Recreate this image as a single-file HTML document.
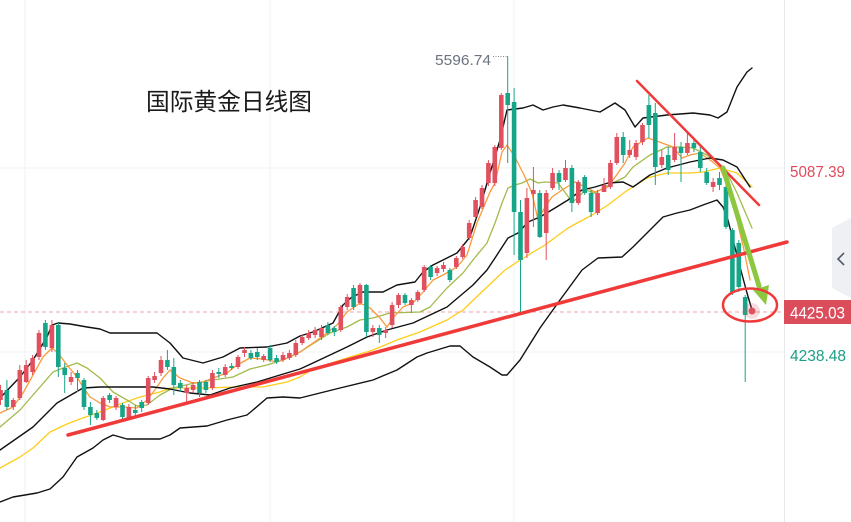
<!DOCTYPE html>
<html><head><meta charset="utf-8"><style>
html,body{margin:0;padding:0;background:#fff;}
svg{display:block;}
</style></head><body>
<svg width="851" height="522" viewBox="0 0 851 522" xmlns="http://www.w3.org/2000/svg">
<rect width="851" height="522" fill="#fff"/>
<!-- grid -->
<g stroke="#eef0f3" stroke-width="1">
<line x1="25" y1="0" x2="25" y2="522"/>
<line x1="270" y1="0" x2="270" y2="522"/>
<line x1="514" y1="0" x2="514" y2="522"/>
<line x1="0" y1="168" x2="784" y2="168"/>
<line x1="0" y1="352" x2="784" y2="352"/>
</g>
<line x1="784.5" y1="0" x2="784.5" y2="522" stroke="#e6e8eb" stroke-width="1"/>
<!-- dashed price line -->
<line x1="0" y1="312" x2="784" y2="312" stroke="#eda3ab" stroke-width="1" stroke-dasharray="4,3"/>

<!-- MA lines -->
<g fill="none" stroke-linejoin="round" stroke-linecap="round">
<polyline stroke="#ffcc1a" stroke-width="1.3" points="0,468 20,457 33,448 50,432 67,424 80,419 100,412 123,403 140,397 160,392 170,388 203,388 237,387 263,387 287,382 300,377 313,369 347,358 373,350 397,340 420,332 447,320 463,310 487,287 505,270 525,257 545,245 568,228 592,215 608,205 625,192 633,187 647,178 667,173 690,173 703,172 720,168 737,173 752,187"/>
<polyline stroke="#a2bb4c" stroke-width="1.3" points="0,427 20,410 33,395 53,372 63,368 77,363 87,368 100,378 113,392 127,400 137,406 147,405 160,395 173,388 190,384 213,380 233,377 250,369 267,365 283,360 300,352 330,333 347,327 360,320 373,318 390,313 420,312 430,307 447,288 463,273 473,260 487,243 495,223 502,203 508,188 515,185 522,183 530,179 538,183 545,182 558,183 567,195 572,202 578,198 585,190 595,193 605,187 615,182 625,177 633,167 650,155 667,147 680,147 693,148 707,155 717,163 727,173 737,193 752,228"/>
<polyline stroke="#fb9a3c" stroke-width="1.3" points="0,413 13,407 23,393 33,375 43,357 52,348 58,353 67,365 77,377 83,387 90,397 100,403 110,407 123,407 137,408 147,400 157,387 163,378 170,370 180,378 193,383 203,382 213,378 227,373 237,365 250,358 263,359 277,362 290,357 300,352 323,336 337,325 347,312 360,303 370,308 380,318 387,327 393,318 403,307 413,303 423,292 433,280 443,275 457,267 467,255 477,223 490,192 495,183 502,152 507,145 515,157 525,177 532,193 538,220 545,207 552,197 562,190 575,182 585,187 595,192 608,187 618,173 625,163 633,147 648,138 662,143 673,147 682,158 690,155 700,153 710,160 720,168 727,185 737,220 744,250 750,280"/>
<!-- Bollinger -->
<polyline stroke="#111" stroke-width="1.4" points="0,398 20,377 33,360 47,337 52,325 58,323 70,324 87,327 100,329 110,333 130,333 157,333 170,343 183,358 203,363 223,357 240,348 267,347 287,343 300,336 313,332 333,323 343,305 352,297 363,292 383,292 397,285 415,282 423,272 433,265 443,260 457,253 470,237 480,207 490,173 500,140 507,110 523,108 533,105 543,110 553,107 563,105 580,108 600,112 615,103 625,110 635,127 643,118 667,115 693,113 710,115 718,118 727,112 737,87 747,72 752,68"/>
<polyline stroke="#111" stroke-width="1.4" points="0,450 33,427 57,403 83,388 100,387 153,387 170,389 190,393 210,395 230,388 257,382 280,375 300,369 313,363 347,347 367,337 387,330 413,323 447,307 473,285 487,270 495,258 508,238 518,233 528,222 540,217 555,208 568,200 582,190 595,187 608,183 623,182 633,187 650,175 667,168 690,162 710,158 723,160 737,167 750,187"/>
<polyline stroke="#111" stroke-width="1.4" points="0,502 13,497 37,493 50,489 63,477 77,457 93,448 103,440 113,435 127,439 160,439 170,435 180,428 207,426 227,420 247,415 253,410 267,398 283,397 300,398 340,388 373,380 397,370 417,357 427,353 450,346 460,346 473,357 490,367 502,375 507,375 520,360 540,328 560,300 582,270 598,258 622,257 633,247 647,233 663,217 677,213 690,210 703,205 717,200 723,207 728,220 733,240 740,267 747,293 752,310"/>
</g>

<!-- red candles -->
<path fill="none" stroke="#e0505e" stroke-width="1" d="M0.5 385V405M13.3 398V410M19.8 365V400M26.2 360V383M32.6 355V375M39 330V360M51.9 320V352M71.1 372V385M103.2 396V421M116.1 396V410M128.9 404V420M148.2 376V405M154.6 372V383M161 356V376M186.7 385V402M193.1 382V393M212.4 370V390M225.2 364V377M238 355V369M244.5 347V357M263.7 354V362M283 352V362M289.4 350V360M295.8 340V357M302.2 335V345M308.7 330V340M315.1 327V338M321.5 325V340M340.8 305V332M347.2 294V310M360 283V305M372.9 325V337M385.7 327V338M392.1 302V328M398.5 293V308M411.4 298V313M417.8 290V302M424.2 265V292M437.1 266V276M443.5 262V272M456.3 256V269M462.7 244V259M469.2 220V240M475.6 197V219M482 185V209M488.4 160V186M494.8 145V186M501.3 93V150M526.9 188V258M533.4 167V227M546.2 190V260M552.6 168V190M565.5 160V182M578.3 180V205M597.6 190V215M604 178V192M610.4 160V189M616.8 133V165M629.7 140V158M636.1 140V160M642.5 123V145M661.8 150V168M674.6 133V162M687.4 133V155M713.1 178V192"/>
<path fill="#e0505e" d="M-1.8 390h4.6V400h-4.6zM11 400h4.6V407h-4.6zM17.5 370h4.6V398h-4.6zM23.9 365h4.6V382h-4.6zM30.3 358h4.6V372h-4.6zM36.7 333h4.6V357h-4.6zM49.6 325h4.6V348h-4.6zM68.8 377h4.6V382h-4.6zM100.9 398h4.6V420h-4.6zM113.8 398h4.6V407h-4.6zM126.6 407h4.6V418h-4.6zM145.9 378h4.6V403h-4.6zM152.3 376h4.6V380h-4.6zM158.7 360h4.6V373h-4.6zM184.4 388h4.6V393h-4.6zM190.8 385h4.6V390h-4.6zM210.1 373h4.6V388h-4.6zM222.9 367h4.6V375h-4.6zM235.7 357h4.6V367h-4.6zM242.2 350h4.6V353h-4.6zM261.4 356h4.6V360h-4.6zM280.7 355h4.6V360h-4.6zM287.1 353h4.6V358h-4.6zM293.5 343h4.6V355h-4.6zM299.9 337h4.6V343h-4.6zM306.4 333h4.6V338h-4.6zM312.8 330h4.6V335h-4.6zM319.2 328h4.6V337h-4.6zM338.5 307h4.6V330h-4.6zM344.9 297h4.6V307h-4.6zM357.7 285h4.6V303h-4.6zM370.6 328h4.6V332h-4.6zM383.4 330h4.6V333h-4.6zM389.8 305h4.6V325h-4.6zM396.2 295h4.6V305h-4.6zM409.1 300h4.6V305h-4.6zM415.5 292h4.6V300h-4.6zM421.9 267h4.6V290h-4.6zM434.8 268h4.6V273h-4.6zM441.2 265h4.6V269h-4.6zM454 258h4.6V267h-4.6zM460.4 247h4.6V257h-4.6zM466.9 223h4.6V238h-4.6zM473.3 200h4.6V217h-4.6zM479.7 188h4.6V207h-4.6zM486.1 163h4.6V183h-4.6zM492.5 147h4.6V183h-4.6zM499 95h4.6V148h-4.6zM524.6 198h4.6V253h-4.6zM531.1 190h4.6V194h-4.6zM543.9 193h4.6V233h-4.6zM550.3 173h4.6V188h-4.6zM563.2 168h4.6V180h-4.6zM576 182h4.6V203h-4.6zM595.3 193h4.6V213h-4.6zM601.7 185h4.6V192h-4.6zM608.1 163h4.6V187h-4.6zM614.5 137h4.6V163h-4.6zM627.4 150h4.6V155h-4.6zM633.8 143h4.6V157h-4.6zM640.2 125h4.6V142h-4.6zM659.5 157h4.6V165h-4.6zM672.3 147h4.6V160h-4.6zM685.1 143h4.6V153h-4.6zM710.8 182h4.6V187h-4.6z"/>

<!-- green candles -->
<path fill="none" stroke="#17a589" stroke-width="1" d="M6.9 380V410M45.4 320V350M58.3 323V377M64.7 363V393M77.5 370V392M84 378V410M90.4 402V425M96.8 410V420M109.6 393V403M122.5 403V420M135.3 405V417M141.7 400V412M167.4 350V370M173.8 358V395M180.3 380V392M199.5 380V397M205.9 380V393M218.8 368V378M231.6 363V370M250.9 350V360M257.3 348V360M270.1 345V362M276.6 355V364M327.9 322V335M334.3 326V336M353.6 285V310M366.4 284V337M379.3 325V343M405 293V305M430.6 265V280M449.9 268V282M507.7 56V163M514.1 88V255M520.5 200V315M539.8 190V238M559 170V190M571.9 165V212M584.7 175V195M591.1 190V217M623.2 132V163M648.9 95V138M655.3 103V185M668.2 147V175M681 142V182M693.9 140V152M700.3 145V172M706.7 168V185M719.5 172V190M726 185V229M732.4 228V295M738.8 240V292M745.2 295V382"/>
<path fill="#17a589" d="M4.6 390h4.6V407h-4.6zM43.1 323h4.6V347h-4.6zM56 325h4.6V367h-4.6zM62.4 368h4.6V375h-4.6zM75.2 373h4.6V378h-4.6zM81.7 380h4.6V407h-4.6zM88.1 407h4.6V415h-4.6zM94.5 413h4.6V418h-4.6zM107.3 395h4.6V400h-4.6zM120.2 405h4.6V417h-4.6zM133 410h4.6V413h-4.6zM139.4 402h4.6V408h-4.6zM165.1 360h4.6V367h-4.6zM171.5 367h4.6V385h-4.6zM178 383h4.6V388h-4.6zM197.2 382h4.6V393h-4.6zM203.6 382h4.6V390h-4.6zM216.5 372h4.6V374h-4.6zM229.3 366h4.6V368h-4.6zM248.6 353h4.6V358h-4.6zM255 352h4.6V357h-4.6zM267.8 348h4.6V360h-4.6zM274.3 358h4.6V362h-4.6zM325.6 325h4.6V333h-4.6zM332 328h4.6V332h-4.6zM351.3 288h4.6V307h-4.6zM364.1 285h4.6V332h-4.6zM377 328h4.6V335h-4.6zM402.7 295h4.6V303h-4.6zM428.3 267h4.6V277h-4.6zM447.6 270h4.6V280h-4.6zM505.4 93h4.6V105h-4.6zM511.8 102h4.6V212h-4.6zM518.2 212h4.6V260h-4.6zM537.5 193h4.6V237h-4.6zM556.7 173h4.6V182h-4.6zM569.6 168h4.6V203h-4.6zM582.4 177h4.6V193h-4.6zM588.8 193h4.6V212h-4.6zM620.9 137h4.6V155h-4.6zM646.6 105h4.6V125h-4.6zM653 113h4.6V167h-4.6zM665.9 155h4.6V170h-4.6zM678.7 147h4.6V153h-4.6zM691.6 143h4.6V148h-4.6zM698 152h4.6V168h-4.6zM704.4 172h4.6V183h-4.6zM717.2 178h4.6V185h-4.6zM723.7 187h4.6V227h-4.6zM730.1 230h4.6V293h-4.6zM736.5 243h4.6V287h-4.6zM742.9 297h4.6V315h-4.6z"/>

<!-- high label -->
<text x="435" y="65" font-family="Liberation Sans, sans-serif" font-size="15" fill="#6b7280" textLength="56" lengthAdjust="spacingAndGlyphs">5596.74</text>
<line x1="493" y1="56.5" x2="507" y2="56.5" stroke="#888" stroke-width="1" stroke-dasharray="1,1.5"/>

<!-- trend lines -->
<line x1="68" y1="435" x2="787" y2="242" stroke="#f03a3a" stroke-width="3.5" stroke-linecap="round"/>
<line x1="637" y1="81" x2="759" y2="205" stroke="#f03a3a" stroke-width="2.5" stroke-linecap="round"/>

<!-- lime arrow -->
<line x1="723" y1="168" x2="759" y2="286" stroke="#8dc63f" stroke-width="5" stroke-linecap="round"/>
<polygon points="766,305 753,290 769,285" fill="#8dc63f"/>

<!-- circle & dot -->
<circle cx="752" cy="311" r="8" fill="#e0505e" fill-opacity="0.2"/>
<circle cx="752" cy="311" r="3.5" fill="#e0505e"/>
<ellipse cx="750" cy="305" rx="27" ry="16.5" fill="none" stroke="#f03a3a" stroke-width="2.5"/>

<!-- title -->
<text x="146" y="110" font-family="Liberation Sans, Noto Sans CJK SC, sans-serif" font-size="24" fill="#1a1a1a" textLength="166" lengthAdjust="spacingAndGlyphs">国际黄金日线图</text>

<!-- right axis -->
<text x="790" y="177" font-family="Liberation Sans, sans-serif" font-size="16" fill="#e04a5a" textLength="55" lengthAdjust="spacingAndGlyphs">5087.39</text>
<rect x="784" y="300" width="67" height="24" fill="#dc4d5c"/>
<text x="790" y="318.5" font-family="Liberation Sans, sans-serif" font-size="17" fill="#fff" textLength="55" lengthAdjust="spacingAndGlyphs">4425.03</text>
<text x="790" y="361" font-family="Liberation Sans, sans-serif" font-size="16" fill="#1a9e86" textLength="56" lengthAdjust="spacingAndGlyphs">4238.48</text>

<!-- side tab -->
<polygon points="851,218 832,228 832,288 851,298" fill="#eef0f3"/>
<polyline points="844,253 838,259 844,265" fill="none" stroke="#555b66" stroke-width="1.6"/>
</svg>
</body></html>
